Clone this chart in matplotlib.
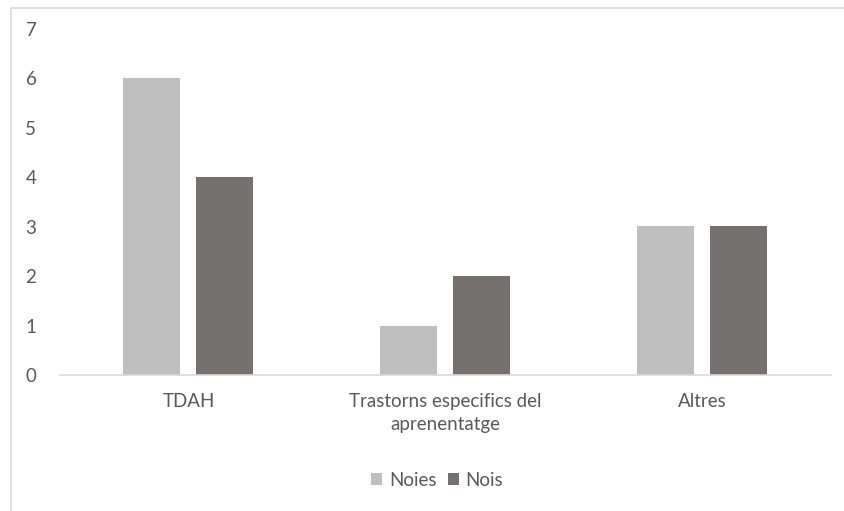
import matplotlib.pyplot as plt
import numpy as np
from matplotlib.patches import Rectangle

categories = ['TDAH', 'Trastorns especifics del\naprenentatge', 'Altres']
noies = [6, 1, 3]
nois = [4, 2, 3]

colors = {'Noies': '#BFBFBF', 'Nois': '#767171'}
text_color = '#595959'
fs = 13.5

plt.rcParams['font.family'] = ['Lato', 'DejaVu Sans']

fig = plt.figure(figsize=(8.44, 5.11), dpi=100)
ax = fig.add_axes([60 / 844, (511 - 375) / 511, (831 - 60) / 844, (375 - 28.5) / 511])

# chart border (cropped on right/bottom like the original)
fig.patches.append(Rectangle((11 / 844, -0.05), 1.2, (511 - 8) / 511 + 0.05,
                             transform=fig.transFigure, fill=False,
                             edgecolor='#D9D9D9', linewidth=1.2))

x = np.arange(len(categories))
width = 57 / 257
offset = 36.5 / 257
ax.bar(x - offset, noies, width, color=colors['Noies'], label='Noies')
ax.bar(x + offset, nois, width, color=colors['Nois'], label='Nois')

ax.set_xlim(-0.5, 2.5)
ax.set_ylim(0, 7)
ax.set_yticks(range(0, 8))
ax.set_xticks(x)
ax.set_xticklabels(categories, fontsize=fs, color=text_color, linespacing=1.45)
ax.tick_params(axis='y', length=0, pad=17, labelsize=fs, labelcolor=text_color)
ax.tick_params(axis='x', length=0, pad=13)

for side in ['top', 'right', 'left']:
    ax.spines[side].set_visible(False)
ax.spines['bottom'].set_color('#D9D9D9')
ax.spines['bottom'].set_linewidth(1.2)

handles, labels = ax.get_legend_handles_labels()
fig.legend(handles, labels, loc='center', bbox_to_anchor=(437 / 844, (511 - 480) / 511),
           ncol=2, frameon=False, fontsize=fs, labelcolor=text_color,
           handlelength=0.6, handleheight=0.6, handletextpad=0.35, columnspacing=0.6)

fig.savefig('out.png', dpi=100)
